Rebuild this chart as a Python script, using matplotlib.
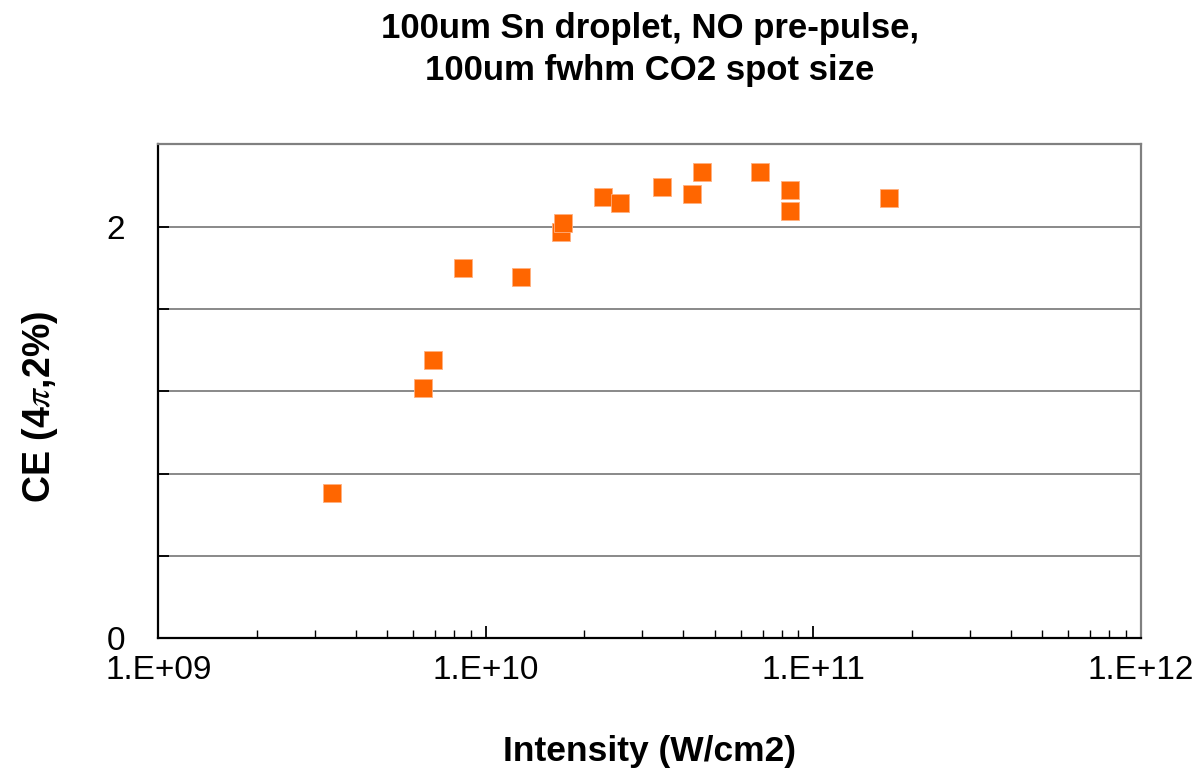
import matplotlib
matplotlib.use("Agg")
import matplotlib.pyplot as plt
from matplotlib.ticker import LogLocator, FixedLocator, NullFormatter, FuncFormatter

plt.rcParams['font.family'] = ['Liberation Sans', 'DejaVu Sans']
plt.rcParams['mathtext.fontset'] = 'stix'

intensity = [3.39e9, 6.41e9, 6.88e9, 8.49e9, 1.28e10, 1.70e10, 1.72e10, 2.28e10,
             2.56e10, 3.44e10, 4.25e10, 4.56e10, 6.87e10, 8.49e10, 8.49e10, 1.70e11]
ce = [0.704, 1.217, 1.352, 1.797, 1.757, 1.975, 2.016, 2.142,
      2.116, 2.194, 2.157, 2.265, 2.265, 2.179, 2.077, 2.140]

title = "100um Sn droplet, NO pre-pulse,\n100um fwhm CO2 spot size"
xlabel = "Intensity (W/cm2)"
ylabel = r"CE (4$\pi$,2%)"
x_ticks = [1e9, 1e10, 1e11, 1e12]
x_ticklabels = ["1.E+09", "1.E+10", "1.E+11", "1.E+12"]
y_grid = [0, 0.4, 0.8, 1.2, 1.6, 2.0, 2.4]
y_labeled = {0: "0", 2.0: "2"}

fig = plt.figure(figsize=(12.02, 7.73), dpi=100)
ax = fig.add_axes([0.1317, 0.1744, 0.8175, 0.6389])

ax.scatter(intensity, ce, marker='s', s=13.5**2, color='#FF6600',
           edgecolors='#FFB080', linewidths=0.6, zorder=3)

ax.set_xscale('log')
ax.set_xlim(1e9, 1e12)
ax.set_ylim(0, 2.4)

ax.xaxis.set_major_locator(FixedLocator(x_ticks))
ax.set_xticklabels(x_ticklabels)
ax.xaxis.set_minor_locator(LogLocator(base=10, subs=range(2, 10)))
ax.xaxis.set_minor_formatter(NullFormatter())

ax.yaxis.set_major_locator(FixedLocator(y_grid))
ax.yaxis.set_major_formatter(FuncFormatter(lambda v, p: y_labeled.get(round(v, 2), "")))

ax.grid(axis='y', color='#808080', linewidth=1.3, zorder=0)
ax.set_axisbelow(True)

for s in ['top', 'right']:
    ax.spines[s].set_color('#808080')
    ax.spines[s].set_linewidth(1.6)
for s in ['left', 'bottom']:
    ax.spines[s].set_color('black')
    ax.spines[s].set_linewidth(1.6)

ax.tick_params(axis='x', which='major', direction='in', length=8.5, width=1.3,
               labelsize=24, pad=12)
ax.tick_params(axis='x', which='minor', direction='in', length=5.5, width=1.0)
ax.tick_params(axis='y', which='major', direction='in', length=8, width=1.3,
               labelsize=24, pad=24)

ax.set_xlabel(xlabel, fontsize=25.5, fontweight='bold')
ax.xaxis.set_label_coords(0.5, -0.196)
ax.set_ylabel(ylabel, fontsize=27, fontweight='bold')
ax.yaxis.set_label_coords(-0.1, 0.468)
ax.set_title(title, fontsize=25, fontweight='bold', pad=46, linespacing=1.35)

fig.savefig("out.png", dpi=100)
